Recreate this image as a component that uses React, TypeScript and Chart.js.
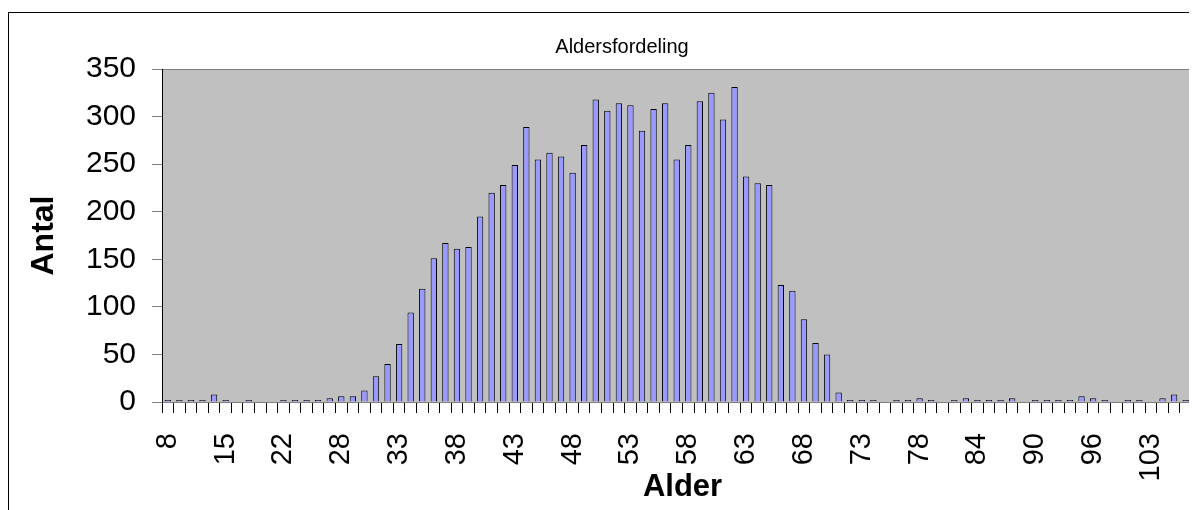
import React, { useEffect, useRef } from 'react';
import { Chart, registerables } from 'chart.js';

Chart.register(...registerables);

const TITLE = 'Aldersfordeling';
const X_TITLE = 'Alder';
const Y_TITLE = 'Antal';

const ages = [
  8, 9, 10, 11, 13, 15, 16, 17, 19, 20,
  22, 23, 24, 25, 27, 28, 29, 30, 31, 32,
  33, 34, 35, 36, 37, 38, 39, 40, 41, 42,
  43, 44, 45, 46, 47, 48, 49, 50, 51, 52,
  53, 54, 55, 56, 57, 58, 59, 60, 61, 62,
  63, 64, 65, 66, 67, 68, 69, 70, 71, 72,
  73, 74, 75, 76, 77, 78, 79, 80, 81, 83,
  84, 85, 86, 87, 89, 90, 91, 92, 93, 95,
  96, 97, 98, 100, 101, 103, 104, 105, 106, 107,
];

const counts = [
  2, 2, 2, 2, 8, 2, 0, 2, 0, 0,
  2, 2, 2, 2, 4, 6, 6, 12, 27, 40,
  61, 94, 119, 151, 167, 161, 163, 195, 220, 228,
  249, 289, 255, 262, 258, 241, 270, 318, 306, 314,
  312, 285, 308, 314, 255, 270, 316, 325, 297, 331,
  237, 230, 228, 123, 117, 87, 62, 50, 10, 2,
  2, 2, 0, 2, 2, 4, 2, 0, 2, 4,
  2, 2, 2, 4, 0, 2, 2, 2, 2, 6,
  4, 2, 0, 2, 2, 0, 4, 8, 2, 0,
];

const yTickValues = [0, 50, 100, 150, 200, 250, 300, 350];

const FONT = 'Arial, "Liberation Sans", sans-serif';

const framePlugin = {
  id: 'excelFrame',
  beforeDraw(chart: any) {
    const { ctx, width, height, chartArea: a } = chart;
    ctx.save();
    ctx.fillStyle = '#ffffff';
    ctx.fillRect(0, 0, width, height);
    ctx.strokeStyle = '#000000';
    ctx.lineWidth = 1;
    ctx.strokeRect(0.5, 4.5, 1228, 800);
    ctx.fillStyle = '#C0C0C0';
    ctx.fillRect(a.left, a.top, a.right - a.left, a.bottom - a.top);
    ctx.strokeStyle = '#808080';
    ctx.strokeRect(a.left + 0.5, a.top + 0.5, a.right - a.left, a.bottom - a.top);
    ctx.fillStyle = '#000000';
    ctx.font = `20px ${FONT}`;
    ctx.textAlign = 'center';
    ctx.textBaseline = 'middle';
    ctx.fillText(TITLE, 614, 39);
    ctx.restore();
  },
};

export default function App() {
  const ref = useRef<HTMLCanvasElement | null>(null);

  useEffect(() => {
    document.documentElement.style.overflow = 'hidden';
    document.body.style.overflow = 'hidden';
    if (!ref.current) return;
    const chart = new Chart(ref.current, {
      type: 'bar',
      data: {
        labels: ages.map(String),
        datasets: [
          {
            data: counts,
            backgroundColor: '#9999FF',
            borderColor: '#000000',
            borderWidth: 1,
            borderSkipped: 'start',
            barPercentage: 0.55,
            categoryPercentage: 1,
          },
        ],
      },
      options: {
        responsive: false,
        animation: false,
        events: [],
        layout: { padding: { top: 61, right: 35, bottom: 0, left: 0 } },
        plugins: {
          legend: { display: false },
          title: { display: false },
          tooltip: { enabled: false },
        },
        scales: {
          x: {
            afterFit: (s: any) => {
              s.height = 126;
              s.paddingLeft = 0;
              s.paddingRight = 0;
            },
            grid: {
              display: true,
              drawOnChartArea: false,
              drawTicks: true,
              tickLength: 11,
              color: '#000000',
              offset: true,
            },
            border: { display: true, color: '#808080', width: 1 },
            ticks: {
              autoSkip: false,
              maxRotation: 90,
              minRotation: 90,
              padding: 20,
              color: '#000000',
              font: { family: FONT, size: 29 },
              callback: (_v: any, i: number) => (i % 5 === 0 ? String(ages[i]) : ''),
            },
            title: {
              display: true,
              text: X_TITLE,
              color: '#000000',
              font: { family: FONT, size: 31, weight: 'bold' },
              padding: { top: 0, bottom: 22 },
            },
          },
          y: {
            min: 0,
            max: 350,
            afterFit: (s: any) => {
              s.width = 154;
              s.paddingTop = 0;
              s.paddingBottom = 0;
            },
            afterBuildTicks: (s: any) => {
              s.ticks = yTickValues.map((v) => ({ value: v }));
            },
            grid: {
              display: true,
              drawOnChartArea: false,
              drawTicks: true,
              tickLength: 10,
              color: '#808080',
            },
            border: { display: true, color: '#000000', width: 1 },
            ticks: {
              padding: 16,
              color: '#000000',
              font: { family: FONT, size: 30 },
            },
            title: {
              display: true,
              text: Y_TITLE,
              color: '#000000',
              font: { family: FONT, size: 32, weight: 'bold' },
              padding: { top: 17, bottom: 0 },
            },
          },
        },
      },
      plugins: [framePlugin],
    });
    return () => chart.destroy();
  }, []);

  return (
    <div style={{ width: 1189, height: 502, overflow: 'hidden', position: 'relative' }}>
      <canvas ref={ref} width={1230} height={520} style={{ display: 'block', width: 1230, height: 520 }} />
    </div>
  );
}
